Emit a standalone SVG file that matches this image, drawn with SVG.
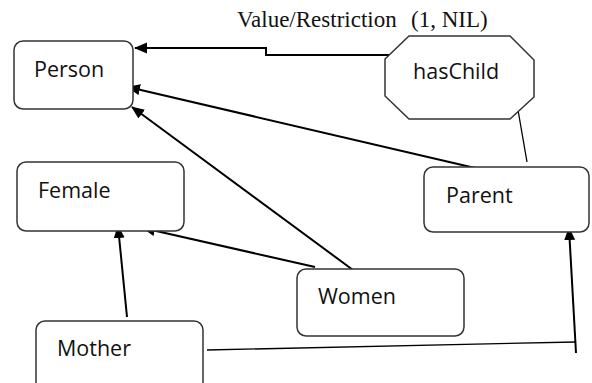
<svg xmlns="http://www.w3.org/2000/svg" width="592" height="383" viewBox="0 0 592 383">
<style>
.box{fill:#fff;stroke:#333;stroke-width:1.5}
.lbl{font-family:"Open Sans",sans-serif;font-size:21.5px;fill:#111}
.arr{fill:none;stroke:#000;stroke-width:2}
.thin{fill:none;stroke:#000;stroke-width:1.3}
.rl{font-family:"Liberation Serif",serif;font-size:23px;fill:#111}
</style>
<defs>
<marker id="ah" markerUnits="userSpaceOnUse" markerWidth="14" markerHeight="12" viewBox="0 0 14 12" refX="12" refY="6" orient="auto">
<path d="M0,0.5 L13,6 L0,11.5 z" fill="#000"/>
</marker>
</defs>
<rect width="592" height="383" fill="#fff"/>
<g id="connectors">
<path class="arr" d="M398,55 H266 V48 H135" marker-end="url(#ah)"/>
<line class="arr" x1="475" y1="168" x2="128" y2="87" marker-end="url(#ah)"/>
<line class="arr" x1="353" y1="270" x2="132" y2="107" marker-end="url(#ah)"/>
<line class="arr" x1="315" y1="267" x2="143" y2="228" marker-end="url(#ah)"/>
<line class="arr" x1="127" y1="317" x2="118" y2="226" marker-end="url(#ah)"/>
<line class="thin" x1="518" y1="110" x2="527" y2="162"/>
<line class="thin" x1="207" y1="350" x2="576" y2="342"/>
<line class="arr" x1="576" y1="353" x2="569" y2="228" marker-end="url(#ah)"/>
<text class="rl" y="27"><tspan x="237">Value/Restriction</tspan><tspan x="411">(1, NIL)</tspan></text>
</g>
<g id="person">
<rect class="box" x="14" y="41" width="119" height="68" rx="9"/>
<text class="lbl" x="34" y="77">Person</text>
</g>
<g id="hasChild">
<polygon class="box" points="409,36 510,36 534,60 534,97 510,119 409,119 385,96 385,59"/>
<text class="lbl" x="413" y="79">hasChild</text>
</g>
<g id="female">
<rect class="box" x="17" y="162" width="167" height="69" rx="9"/>
<text class="lbl" x="38" y="198">Female</text>
</g>
<g id="parent">
<rect class="box" x="424" y="167" width="165" height="65" rx="9"/>
<text class="lbl" x="446" y="203">Parent</text>
</g>
<g id="women">
<rect class="box" x="297" y="269" width="167" height="67" rx="9"/>
<text class="lbl" x="318" y="304">Women</text>
</g>
<g id="mother">
<rect class="box" x="36" y="321" width="167" height="72" rx="9"/>
<text class="lbl" x="57" y="356">Mother</text>
</g>
</svg>
